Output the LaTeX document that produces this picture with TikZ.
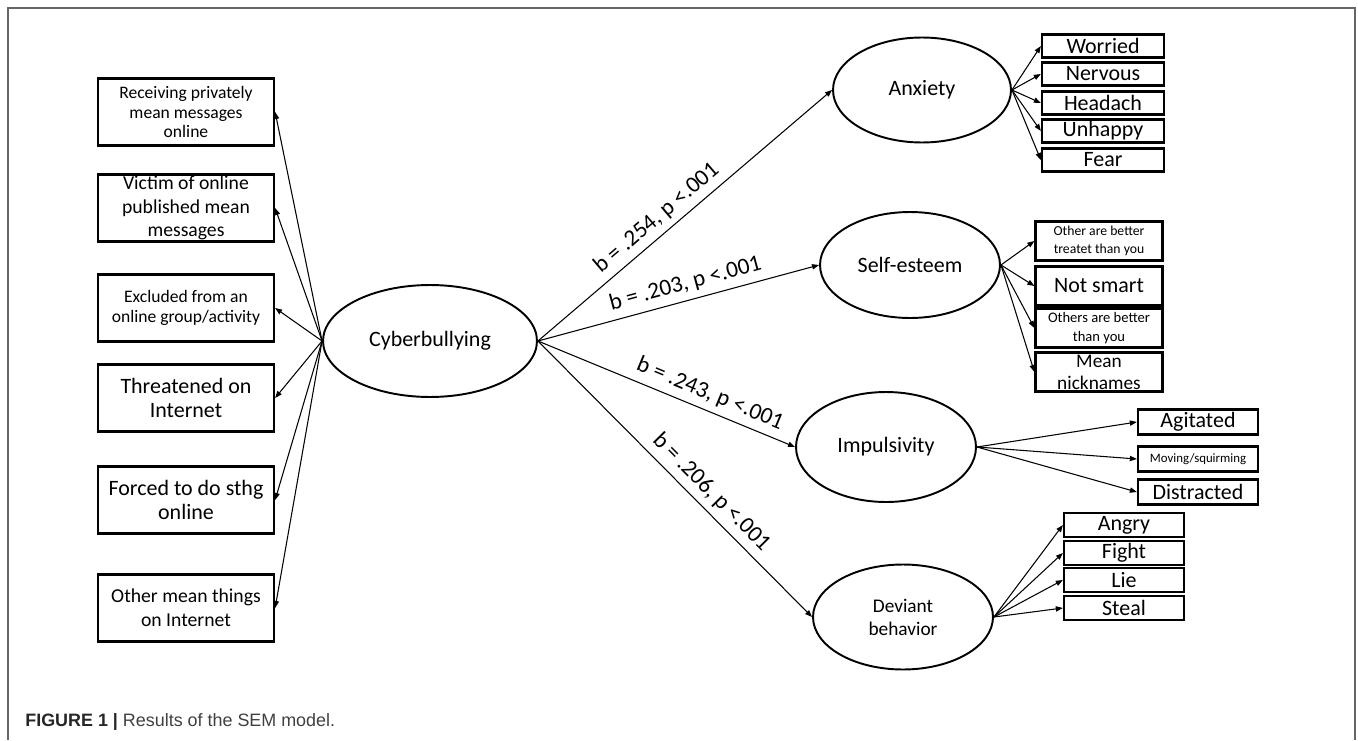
\documentclass[tikz,border=0pt]{standalone}
\usepackage{fontspec}
\setmainfont{Carlito}
\newfontfamily\captionfont{Liberation Sans}
\usepackage{xcolor}
\usetikzlibrary{arrows.meta,shapes.geometric}
\newcommand{\fsz}[2]{\fontsize{#1}{#2}\selectfont}
\tikzset{
    latent-var/.style = {draw, ellipse, line width=1.1pt, inner sep=0pt, align=center, font=\fsz{12.5}{14}},
    indicator-box/.style = {draw, rectangle, line width=1.3pt, inner xsep=1pt, inner ysep=0pt, align=center},
    left-box/.style = {indicator-box, minimum width=3.52cm, minimum height=1.34cm},
    anx-box/.style = {indicator-box, minimum width=2.44cm, minimum height=0.46cm, font=\fsz{12.5}{13}},
    self-box/.style = {indicator-box, minimum width=2.54cm, minimum height=0.78cm},
    imp-box/.style = {indicator-box, minimum width=2.4cm, minimum height=0.5cm, font=\fsz{12.5}{13}},
    dev-box/.style = {indicator-box, minimum width=2.4cm, minimum height=0.47cm, font=\fsz{12.5}{13}},
    loading-arrow/.style = {-{Triangle[length=4pt,width=3pt]}, line width=0.6pt},
    path-label/.style = {sloped, above, inner sep=3.5pt, font=\fsz{13.2}{15}},
}

\begin{document}
\begin{tikzpicture}[x=0.02cm, y=-0.02cm]
\useasboundingbox (0,0) rectangle (1358,740);
\draw[line width=0.8pt, black!60] (8,740) -- (8,8) -- (1355,8) -- (1355,740);

% latent variables
\node[latent-var, minimum width=4.28cm, minimum height=2.24cm] (cyber) at (430,341) {Cyberbullying};
\node[latent-var, minimum width=3.56cm, minimum height=2.1cm] (anx) at (922,90) {Anxiety};
\node[latent-var, minimum width=3.6cm, minimum height=2.12cm] (self) at (910,265) {Self-esteem};
\node[latent-var, minimum width=3.6cm, minimum height=2.2cm] (imp) at (886,447) {Impulsivity};
\node[latent-var, minimum width=3.6cm, minimum height=2.1cm, font=\fsz{11}{13}] (dev) at (903,617) {Deviant\\behavior};

% cyberbullying indicators
\node[left-box, font=\fsz{10}{11.3}] (recv) at (186,112) {Receiving privately\\mean messages\\online};
\node[left-box, font=\fsz{11.2}{13.3}] (victim) at (186,208) {Victim of online\\published mean\\messages};
\node[left-box, font=\fsz{10}{11.5}] (excl) at (186,308) {Excluded from an\\online group/activity};
\node[left-box, font=\fsz{12.5}{14}] (threat) at (186,398) {Threatened on\\Internet};
\node[left-box, font=\fsz{12.5}{14}] (forced) at (186,500) {Forced to do sthg\\online};
\node[left-box, font=\fsz{11.2}{13.6}] (other) at (186,608) {Other mean things\\on Internet};

% anxiety indicators
\node[anx-box] (worried) at (1103,46) {Worried};
\node[anx-box] (nervous) at (1103,74) {Nervous};
\node[anx-box] (headach) at (1103,103) {Headach};
\node[anx-box] (unhappy) at (1103,131) {Unhappy};
\node[anx-box] (fear) at (1103,160) {Fear};

% self-esteem indicators
\node[self-box, font=\fsz{7.8}{10}] (treated) at (1099,241) {Other are better\\treatet than you};
\node[self-box, font=\fsz{12.5}{14}] (notsmart) at (1099,286) {Not smart};
\node[self-box, font=\fsz{8.3}{10.5}] (better) at (1099,328) {Others are better\\than you};
\node[self-box, font=\fsz{11}{12.5}] (nick) at (1099,372) {Mean\\nicknames};

% impulsivity indicators
\node[imp-box] (agitated) at (1198,422) {Agitated};
\node[imp-box, font=\fsz{7.3}{9}] (moving) at (1198,459) {Moving/squirming};
\node[imp-box] (distracted) at (1198,492) {Distracted};

% deviant behavior indicators
\node[dev-box] (angry) at (1124,525) {Angry};
\node[dev-box] (fight) at (1124,553) {Fight};
\node[dev-box] (lie) at (1124,580) {Lie};
\node[dev-box] (steal) at (1124,608) {Steal};

% loadings
\draw[loading-arrow] (cyber.west) -- (recv.east);
\draw[loading-arrow] (cyber.west) -- (victim.east);
\draw[loading-arrow] (cyber.west) -- (excl.east);
\draw[loading-arrow] (cyber.west) -- (threat.east);
\draw[loading-arrow] (cyber.west) -- (forced.east);
\draw[loading-arrow] (cyber.west) -- (other.east);

\draw[loading-arrow] (anx.east) -- (worried.west);
\draw[loading-arrow] (anx.east) -- (nervous.west);
\draw[loading-arrow] (anx.east) -- (headach.west);
\draw[loading-arrow] (anx.east) -- (unhappy.west);
\draw[loading-arrow] (anx.east) -- (fear.west);

\draw[loading-arrow] (self.east) -- (treated.west);
\draw[loading-arrow] (self.east) -- (notsmart.west);
\draw[loading-arrow] (self.east) -- (better.west);
\draw[loading-arrow] (self.east) -- (nick.west);

\draw[loading-arrow] (imp.east) -- (agitated.west);
\draw[loading-arrow] (imp.east) -- (moving.west);
\draw[loading-arrow] (imp.east) -- (distracted.west);

\draw[loading-arrow] (dev.east) -- (angry.west);
\draw[loading-arrow] (dev.east) -- (fight.west);
\draw[loading-arrow] (dev.east) -- (lie.west);
\draw[loading-arrow] (dev.east) -- (steal.west);

% structural paths
\draw[loading-arrow] (cyber.east) -- node[path-label, pos=0.44] {b = .254, p <.001} (anx.west);
\draw[loading-arrow] (cyber.east) -- node[path-label, pos=0.54] {b = .203, p <.001} (self.west);
\draw[loading-arrow] (cyber.east) -- node[path-label, pos=0.645] {b = .243, p <.001} (imp.west);
\draw[loading-arrow] (cyber.east) -- node[path-label, pos=0.59] {b = .206, p <.001} (dev.west);

\node[anchor=base west, inner sep=0pt, text=black!75, font=\captionfont\fsz{10.2}{12}] (caption) at (25,726)
    {\textcolor{black!85}{\textbf{FIGURE 1 | }}Results of the SEM model.};
\end{tikzpicture}
\end{document}
